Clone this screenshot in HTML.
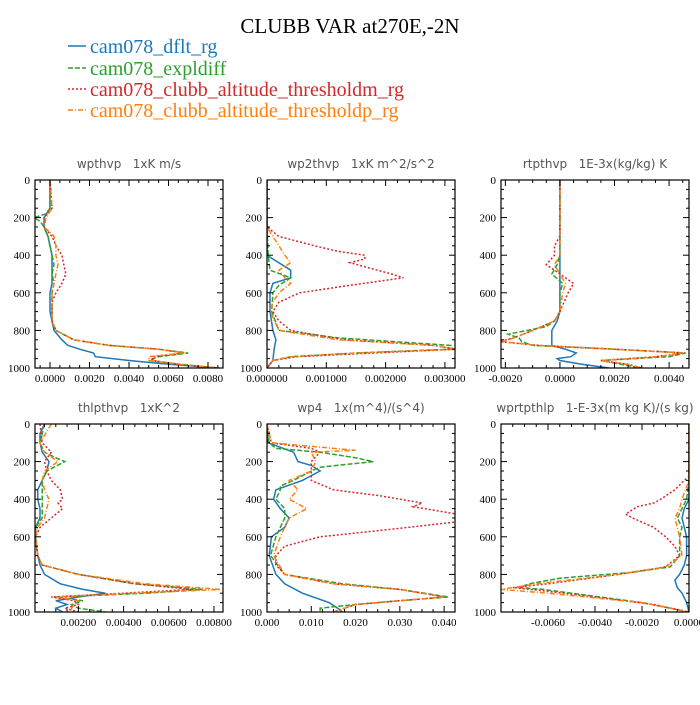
<!DOCTYPE html>
<html><head><meta charset="utf-8"><style>
body{margin:0;background:#fff;}
svg text{font-family:"Liberation Serif",serif;}
.pt{font-family:"DejaVu Sans",sans-serif;font-size:12px;fill:#555;white-space:pre;}
</style></head><body>
<svg id="chart" width="700" height="700" viewBox="0 0 700 700">
<text x="350" y="33" text-anchor="middle" font-size="21">CLUBB VAR at270E,-2N</text>
<g font-size="20">
<line x1="68" y1="46" x2="86" y2="46" stroke="#1f77b4" stroke-width="1.5"/>
<text x="90" y="53" fill="#1f77b4">cam078_dflt_rg</text>
<line x1="68" y1="68" x2="86" y2="68" stroke="#2ca02c" stroke-width="1.5" stroke-dasharray="5,2"/>
<text x="90" y="75" fill="#2ca02c">cam078_expldiff</text>
<line x1="68" y1="89" x2="86" y2="89" stroke="#d62728" stroke-width="1.5" stroke-dasharray="2,2"/>
<text x="90" y="96" fill="#d62728">cam078_clubb_altitude_thresholdm_rg</text>
<line x1="68" y1="110" x2="86" y2="110" stroke="#ff7f0e" stroke-width="1.5" stroke-dasharray="5,2,1,2"/>
<text x="90" y="117" fill="#ff7f0e">cam078_clubb_altitude_thresholdp_rg</text>
</g>
</svg>
<script>
// ---- data: [pressure, value] pairs ----
const wpthvp_dflt=[[0,0],[100,0],[150,0],[200,-0.0003],[250,-0.0003],[300,-0.0001],[350,0],[400,0.0001],[450,0.0001],[500,0.0001],[550,0.0001],[600,0],[700,0],[750,0.0001],[800,0.0002],[850,0.0006],[880,0.0009],[900,0.0015],[920,0.0022],[940,0.0023],[960,0.004],[980,0.006],[1000,0.0085]];
const wpthvp_expl=[[0,0],[150,0],[180,-0.0002],[200,-0.0008],[220,-0.0005],[250,-0.0003],[300,-0.0001],[350,0],[400,0.0001],[450,0.0002],[500,0.0001],[550,0.0002],[600,0.0001],[750,0.0001],[800,0.0003],[850,0.0012],[880,0.003],[900,0.0055],[920,0.007],[940,0.0055],[960,0.005],[980,0.0065],[1000,0.0085]];
const wpthvp_thm=[[0,0],[150,0.0001],[200,-0.0003],[250,-0.0003],[300,0.0001],[350,0.0003],[400,0.0006],[450,0.0007],[500,0.0008],[550,0.0006],[600,0.0003],[650,0.0001],[750,0.0001],[800,0.0003],[850,0.0012],[880,0.003],[900,0.0055],[920,0.0068],[940,0.0052],[960,0.0052],[980,0.0065],[1000,0.0085]];
const wpthvp_thp=[[0,0],[150,0.0001],[200,-0.0002],[250,-0.0003],[300,0.0002],[350,0.0003],[400,0.0003],[450,0.0004],[500,0.0003],[550,0.0002],[600,0.0001],[750,0.0001],[800,0.0003],[850,0.0012],[880,0.003],[900,0.0055],[920,0.0068],[940,0.005],[960,0.005],[980,0.0065],[1000,0.0085]];

const wp2thvp_dflt=[[0,0],[400,0],[420,0.0001],[480,0.0004],[520,0.0004],[550,0.0001],[600,0.00005],[700,0.00005],[800,0.0001],[850,0.00015],[900,0.00012],[960,0.0001],[1000,0]];
const wp2thvp_expl=[[0,0],[250,0],[400,0.00002],[480,0.00005],[520,0.0004],[560,0.0002],[600,0.0001],[700,0.00008],[800,0.0002],[840,0.0012],[880,0.0031],[900,0.0031],[920,0.0015],[940,0.0004],[960,0.0001],[1000,0]];
const wp2thvp_thm=[[0,0],[250,0],[300,0.0002],[350,0.0008],[380,0.0012],[400,0.00165],[420,0.00165],[440,0.0014],[500,0.0021],[520,0.0023],[560,0.0014],[600,0.00055],[650,0.0002],[700,0.0001],[750,0.0002],[800,0.0004],[850,0.0013],[880,0.0028],[900,0.0032],[920,0.0018],[940,0.0005],[960,0.0001],[1000,0]];
const wp2thvp_thp=[[0,0],[250,0],[300,0.0001],[350,0.0002],[400,0.0003],[440,0.0004],[480,0.0002],[520,0.0003],[550,0.0004],[600,0.0002],[650,0.0001],[700,0.00005],[800,0.0002],[850,0.0012],[880,0.0028],[900,0.0032],[920,0.0015],[940,0.0004],[960,0.0001],[1000,0]];

const rtpthvp_dflt=[[0,0],[700,0],[750,-0.0001],[800,-0.0003],[880,-0.0003],[900,0.0002],[920,0.0006],[940,0.0004],[950,-0.0001],[960,0],[980,0.0008],[1000,0.0018]];
const rtpthvp_expl=[[0,0],[400,0],[450,-0.0001],[500,-0.0003],[550,0.0001],[600,0],[700,0],[750,-0.0002],[780,-0.0005],[820,-0.0019],[840,-0.0015],[860,-0.0014],[880,-0.001],[900,0.002],[920,0.0046],[940,0.004],[960,0.0015],[980,0.0022],[1000,0.003]];
const rtpthvp_thm=[[0,0],[300,0],[350,-0.0002],[400,-0.0002],[450,-0.0005],[500,0],[550,0.0005],[600,0.0003],[700,0],[750,-0.0002],[800,-0.001],[840,-0.0017],[860,-0.0022],[880,-0.0008],[900,0.002],[920,0.0046],[940,0.0035],[960,0.0015],[980,0.0025],[1000,0.003]];
const rtpthvp_thp=[[0,0],[400,0],[450,-0.0002],[500,0],[550,0.0002],[600,0.0001],[700,0],[750,-0.0002],[800,-0.001],[840,-0.0017],[860,-0.0021],[880,-0.0008],[900,0.002],[920,0.0045],[940,0.0036],[960,0.0015],[980,0.0024],[1000,0.003]];

const thlpthvp_dflt=[[0,0.0005],[50,0.0003],[100,0.0003],[150,0.0004],[200,0.0007],[250,0.0006],[300,0.0004],[350,0.0002],[400,0.0002],[450,0.0003],[500,0.0003],[550,0.0001],[600,0.0001],[700,0.0002],[750,0.0003],[800,0.0005],[850,0.0012],[880,0.0022],[900,0.0032],[920,0.002],[940,0.001],[960,0.0015],[980,0.001],[1000,0.0013]];
const thlpthvp_expl=[[0,0.0005],[100,0.0003],[150,0.0005],[180,0.001],[200,0.0014],[250,0.0006],[300,0.0004],[400,0.0004],[500,0.0004],[550,0.0001],[600,0.0001],[700,0.0002],[750,0.0004],[800,0.002],[850,0.0045],[880,0.0075],[900,0.005],[920,0.001],[940,0.0022],[960,0.0017],[980,0.002],[1000,0.0032]];
const thlpthvp_thm=[[0,0.0003],[100,0.0004],[150,0.0008],[200,0.0005],[250,0.0006],[300,0.0008],[350,0.0012],[400,0.0013],[420,0.0011],[450,0.0013],[500,0.0008],[550,0.0003],[600,0.0001],[700,0.0002],[750,0.0004],[800,0.002],[850,0.0045],[880,0.007],[900,0.004],[920,0.0008],[940,0.0018],[960,0.002],[980,0.0014],[1000,0.002]];
const thlpthvp_thp=[[0,0.0008],[100,0.0003],[150,0.0005],[200,0.0011],[250,0.0005],[300,0.0004],[350,0.0005],[400,0.0007],[450,0.0006],[500,0.0005],[550,0.0002],[600,0.0001],[700,0.0002],[750,0.0004],[800,0.002],[850,0.005],[880,0.0083],[900,0.0045],[920,0.001],[940,0.002],[960,0.0018],[980,0.0017],[1000,0.0017]];

const wp4_dflt=[[0,0],[100,0.0003],[150,0.006],[200,0.007],[220,0.01],[250,0.012],[300,0.008],[350,0.002],[400,0.0015],[450,0.003],[500,0.005],[550,0.004],[600,0.001],[700,0.0005],[800,0.002],[850,0.004],[900,0.008],[950,0.014],[980,0.016],[1000,0.017]];
const wp4_expl=[[0,0],[100,0.0005],[130,0.002],[150,0.012],[180,0.02],[200,0.024],[230,0.012],[250,0.01],[300,0.006],[330,0.003],[350,0.003],[400,0.002],[450,0.004],[500,0.004],[550,0.003],[600,0.002],[700,0.0008],[800,0.004],[850,0.017],[880,0.03],[920,0.041],[940,0.03],[960,0.02],[980,0.012],[1000,0.012]];
const wp4_thm=[[0,0],[100,0.001],[130,0.01],[150,0.012],[200,0.01],[250,0.01],[300,0.01],[350,0.015],[380,0.025],[400,0.03],[420,0.035],[440,0.033],[480,0.043],[520,0.043],[560,0.028],[600,0.012],[650,0.004],[700,0.002],[750,0.002],[800,0.004],[850,0.015],[880,0.03],[920,0.04],[940,0.03],[960,0.02],[1000,0.015]];
const wp4_thp=[[0,0],[100,0.001],[140,0.02],[150,0.01],[200,0.011],[250,0.01],[300,0.005],[350,0.007],[400,0.005],[450,0.009],[500,0.005],[550,0.004],[600,0.003],[700,0.0015],[800,0.004],[850,0.015],[880,0.03],[920,0.04],[940,0.03],[960,0.02],[1000,0.015]];

const wprtp_dflt=[[0,0],[400,0],[450,-0.0002],[500,-0.0003],[550,-0.0002],[600,-0.0001],[700,-0.0001],[750,-0.0002],[800,-0.0004],[830,-0.0006],[870,-0.0005],[900,-0.0003],[950,-0.0001],[1000,0]];
const wprtp_expl=[[0,0],[300,0],[400,-0.0001],[450,-0.0003],[500,-0.0005],[550,-0.0003],[600,-0.0004],[700,-0.0004],[760,-0.0008],[790,-0.0025],[820,-0.0055],[850,-0.0068],[870,-0.0072],[880,-0.0062],[900,-0.005],[950,-0.002],[1000,0]];
const wprtp_thm=[[0,0],[280,0],[300,-0.0002],[350,-0.0006],[400,-0.0012],[420,-0.0015],[440,-0.0022],[480,-0.0027],[500,-0.0024],[550,-0.0015],[600,-0.001],[650,-0.0006],[700,-0.0004],[760,-0.001],[800,-0.003],[850,-0.006],[870,-0.0075],[890,-0.006],[920,-0.004],[960,-0.0015],[1000,0]];
const wprtp_thp=[[0,0],[300,0],[400,-0.0003],[450,-0.0004],[500,-0.0006],[550,-0.0005],[600,-0.0004],[700,-0.0003],[760,-0.001],[800,-0.003],[850,-0.0065],[880,-0.008],[900,-0.006],[950,-0.002],[1000,0]];

const xTicks1=[0,0.002,0.004,0.006,0.008], xLabels1=["0.0000","0.0020","0.0040","0.0060","0.0080"];
const xTicks2=[0,0.001,0.002,0.003], xLabels2=["0.000000","0.001000","0.002000","0.003000"];
const xTicks3=[-0.002,0,0.002,0.004], xLabels3=["-0.0020","0.0000","0.0020","0.0040"];
const xTicks4=[0.002,0.004,0.006,0.008], xLabels4=["0.00200","0.00400","0.00600","0.00800"];
const xTicks5=[0,0.01,0.02,0.03,0.04], xLabels5=["0.000","0.010","0.020","0.030","0.040"];
const xTicks6=[-0.006,-0.004,-0.002,0], xLabels6=["-0.0060","-0.0040","-0.0020","0.0000"];
const yTicks=[0,200,400,600,800,1000];

const NS="http://www.w3.org/2000/svg";
const svg=document.getElementById('chart');
const colors=["#1f77b4","#2ca02c","#d62728","#ff7f0e"];
const dashes=["","5,2","2,2","5,2,1,2"];
function mk(t,a,p){const e=document.createElementNS(NS,t);for(const k in a)e.setAttribute(k,a[k]);(p||svg).appendChild(e);return e;}

const panels=[
 {name:"wpthvp",title:"wpthvp   1xK m/s",x0:35,y0:180,xmin:-0.00076,xmax:0.00876,ticks:xTicks1,labels:xLabels1,minor:0.0005,series:[wpthvp_dflt,wpthvp_expl,wpthvp_thm,wpthvp_thp]},
 {name:"wp2thvp",title:"wp2thvp   1xK m^2/s^2",x0:267,y0:180,xmin:0,xmax:0.00317,ticks:xTicks2,labels:xLabels2,minor:0.0002,series:[wp2thvp_dflt,wp2thvp_expl,wp2thvp_thm,wp2thvp_thp]},
 {name:"rtpthvp",title:"rtpthvp   1E-3x(kg/kg) K",x0:501,y0:180,xmin:-0.00216,xmax:0.00473,ticks:xTicks3,labels:xLabels3,minor:0.0005,series:[rtpthvp_dflt,rtpthvp_expl,rtpthvp_thm,rtpthvp_thp]},
 {name:"thlpthvp",title:"thlpthvp   1xK^2",x0:35,y0:424,xmin:0.00008,xmax:0.0084,ticks:xTicks4,labels:xLabels4,minor:0.0005,series:[thlpthvp_dflt,thlpthvp_expl,thlpthvp_thm,thlpthvp_thp]},
 {name:"wp4",title:"wp4   1x(m^4)/(s^4)",x0:267,y0:424,xmin:0,xmax:0.04246,ticks:xTicks5,labels:xLabels5,minor:0.0025,series:[wp4_dflt,wp4_expl,wp4_thm,wp4_thp]},
 {name:"wprtpthlp",title:"wprtpthlp   1-E-3x(m kg K)/(s kg)",x0:501,y0:424,xmin:-0.008,xmax:0,ticks:xTicks6,labels:xLabels6,minor:0.0005,series:[wprtp_dflt,wprtp_expl,wprtp_thm,wprtp_thp]}
];
const W=188,H=188;
panels.forEach(P=>{
  const g=mk('g',{});
  
  
  const sx=v=>P.x0+(v-P.xmin)/(P.xmax-P.xmin)*W;
  const sy=p=>P.y0+p/1000*H;
  const t=mk('text',{x:P.x0+W/2,y:P.y0-12,'text-anchor':'middle',class:'pt'},g);
  t.textContent=P.title;
  
  
  const clip='c'+P.name;
  const cp=mk('clipPath',{id:clip},g);mk('rect',{x:P.x0,y:P.y0,width:W,height:H},cp);
  const lg=mk('g',{'clip-path':'url(#'+clip+')'},g);
  P.series.forEach((s,i)=>{
    const d=s.map((q,j)=>(j?'L':'M')+sx(q[1]).toFixed(1)+','+sy(q[0]).toFixed(1)).join('');
    const pa=mk('path',{d:d,fill:'none',stroke:colors[i],'stroke-width':1.5,'stroke-dasharray':dashes[i]},lg);
    
    
  });
  for(let p=0;p<=1000;p+=50){
    const L=p%200===0?6:3;
    mk('line',{x1:P.x0,x2:P.x0+L,y1:sy(p),y2:sy(p),stroke:'#000','stroke-width':1},g);
    mk('line',{x1:P.x0+W,x2:P.x0+W-L,y1:sy(p),y2:sy(p),stroke:'#000','stroke-width':1},g);
  }
  yTicks.forEach(p=>{
    const tl=mk('text',{x:P.x0-5,y:sy(p)+4,'text-anchor':'end','font-size':11},g);tl.textContent=p;
    
    
  });
  const st=P.minor;
  for(let v=Math.ceil(P.xmin/st)*st;v<=P.xmax+1e-12;v+=st){
    const major=P.ticks.some(tk=>Math.abs(tk-v)<st/10);
    const L=major?6:3,x=sx(v);
    mk('line',{x1:x,x2:x,y1:P.y0+H,y2:P.y0+H-L,stroke:'#000','stroke-width':1},g);
    mk('line',{x1:x,x2:x,y1:P.y0,y2:P.y0+L,stroke:'#000','stroke-width':1},g);
  }
  P.ticks.forEach((v,i)=>{
    const tl=mk('text',{x:sx(v),y:P.y0+H+14,'text-anchor':'middle','font-size':11},g);tl.textContent=P.labels[i];
    
    
  });
  const fr=mk('rect',{x:P.x0,y:P.y0,width:W,height:H,fill:'none',stroke:'#000','stroke-width':1.2},g);
  
  
});
</script>
</body></html>
